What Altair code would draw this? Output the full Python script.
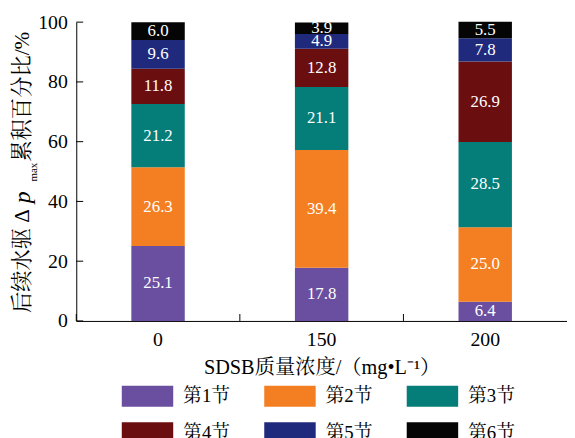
import altair as alt
import pandas as pd

concentrations = ["0", "150", "200"]
segments = ["第1节", "第2节", "第3节", "第4节", "第5节", "第6节"]
values_0 = [25.1, 26.3, 21.2, 11.8, 9.6, 6.0]
values_150 = [17.8, 39.4, 21.1, 12.8, 4.9, 3.9]
values_200 = [6.4, 25.0, 28.5, 26.9, 7.8, 5.5]
colors = ["#6A4FA0", "#F47F22", "#057D79", "#6A0E10", "#1F2A7C", "#050505"]
y_ticks = [0, 20, 40, 60, 80, 100]

rows = []
for c, vals in zip(concentrations, [values_0, values_150, values_200]):
    for i, (s, v) in enumerate(zip(segments, vals)):
        rows.append({"conc": c, "seg": s, "order": i, "value": v, "label": f"{v:.1f}"})
df = pd.DataFrame(rows)

W, H = 496, 302
SERIF = "'Liberation Serif', 'Times New Roman', Tinos, 'DejaVu Serif', serif"
FONT = "'Liberation Serif', 'Times New Roman', Tinos, 'Noto Serif CJK SC', 'Noto Sans CJK SC', serif"
one = pd.DataFrame({"k": [0]})

x_scale = alt.Scale(paddingInner=0, paddingOuter=0)
y_scale = alt.Scale(domain=[0, 100], nice=False)

bars = alt.Chart(df).mark_bar(size=54).encode(
    x=alt.X("conc:N", sort=concentrations, scale=x_scale,
            axis=alt.Axis(title="SDSB质量浓度/（mg•L⁻¹）", titleFont=FONT, titleFontSize=20.5,
                          titleFontWeight="normal", titlePadding=8, titleColor="black",
                          labelFont=FONT, labelFontSize=20, labelAngle=0, labelPadding=9,
                          labelColor="black", tickSize=0, domainColor="black")),
    y=alt.Y("value:Q", stack="zero", scale=y_scale,
            axis=alt.Axis(values=y_ticks, title=None, tickSize=0, labelPadding=9,
                          labelFont=FONT, labelFontSize=20, labelColor="black",
                          domainColor="black", grid=False)),
    color=alt.Color("seg:N", sort=segments, scale=alt.Scale(domain=segments, range=colors),
                    legend=alt.Legend(title=None, orient="none", legendX=46, legendY=352,
                                      direction="horizontal", columns=3,
                                      symbolType="M-1,-0.41H1V0.41H-1Z", symbolSize=2704,
                                      symbolStrokeWidth=0, symbolOpacity=1,
                                      labelFont=FONT, labelFontSize=19, labelColor="black",
                                      labelOffset=10, columnPadding=34, rowPadding=-19,
                                      padding=0)),
    order=alt.Order("order:Q", sort="ascending"),
)

labels = alt.Chart(df).transform_stack(
    stack="value", groupby=["conc"], as_=["v0", "v1"],
    sort=[alt.SortField("order", order="ascending")]
).transform_calculate(
    mid="(datum.v0 + datum.v1) / 2"
).mark_text(color="white", font=SERIF, fontSize=17, baseline="middle").encode(
    x=alt.X("conc:N", sort=concentrations),
    y=alt.Y("mid:Q"),
    text="label:N",
)

ytick_df = pd.DataFrame({"tick": y_ticks})
yticks = alt.Chart(ytick_df).mark_rule(color="black", strokeWidth=1).encode(
    y=alt.Y("tick:Q"), x=alt.value(0), x2=alt.value(7)
)

xticks = alt.Chart(pd.DataFrame({"conc": concentrations})).mark_rule(color="black", strokeWidth=1).encode(
    x=alt.X("conc:N", sort=concentrations, bandPosition=0),
    y=alt.value(H), y2=alt.value(H - 7)
)

def title_piece(text, y, size, x=-54, font=FONT, style="normal"):
    return alt.Chart(one).mark_text(
        text=text, angle=270, align="left", baseline="middle",
        font=font, fontSize=size, fontStyle=style, color="black"
    ).encode(x=alt.value(x), y=alt.value(y))

t1 = title_piece("后续水驱 Δ", 314 - 20, 21.5)
t2 = title_piece("p", 203 - 20, 24, font=SERIF, style="italic")
t3 = title_piece("max", 181 - 20, 11, x=-43, font=SERIF)
t4 = title_piece("累积百分比/%", 161 - 20, 21.5)

chart = alt.layer(bars, labels, yticks, xticks, t1, t2, t3, t4).properties(
    width=W, height=H,
    padding={"left": 69, "top": 12, "right": 0, "bottom": 116},
    autosize=alt.AutoSizeParams(type="none"),
).configure_view(stroke=None)

chart.save("out.html", embed_options={"renderer": "svg", "actions": False})
